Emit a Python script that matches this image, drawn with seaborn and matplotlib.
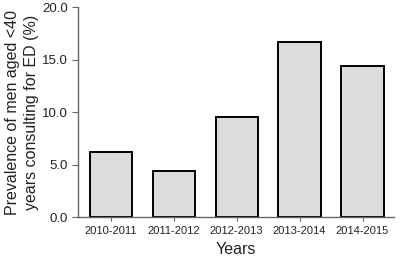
import matplotlib
matplotlib.use("Agg")
import matplotlib.pyplot as plt
import seaborn as sns
import pandas as pd

years = ["2010-2011", "2011-2012", "2012-2013", "2013-2014", "2014-2015"]
prevalence = [6.2, 4.4, 9.5, 16.7, 14.4]
yticks = [0, 5, 10, 15, 20]
ytick_labels = ["0.0", "5.0", "10.0", "15.0", "20.0"]

sns.set_style("ticks")
plt.rcParams['font.family'] = ['Liberation Sans', 'DejaVu Sans']
plt.rcParams['text.color'] = '#222222'
plt.rcParams['axes.labelcolor'] = '#222222'
plt.rcParams['xtick.labelcolor'] = '#222222'
plt.rcParams['ytick.labelcolor'] = '#222222'

df = pd.DataFrame({"Years": years, "Prevalence": prevalence})

fig = plt.figure(figsize=(4.0, 2.59), dpi=100)
ax = fig.add_axes([0.195, 0.162, 0.79, 0.81])
sns.barplot(data=df, x="Years", y="Prevalence", ax=ax, color="#dcdcdc",
            edgecolor="black", linewidth=1.4, width=0.67, saturation=1)
ax.set_ylim(0, 20)
ax.set_xlim(-0.52, 4.5)
ax.set_yticks(yticks)
ax.set_yticklabels(ytick_labels, fontsize=9.5)
ax.tick_params(axis="x", labelsize=8, length=3, color="#666666")
ax.tick_params(axis="y", length=4, color="#666666")
for s in ["top", "right"]:
    ax.spines[s].set_visible(False)
for s in ["left", "bottom"]:
    ax.spines[s].set_color("#666666")
    ax.spines[s].set_linewidth(1.0)
ax.set_xlabel("Years", fontsize=11.5, labelpad=4)
ax.set_ylabel("Prevalence of men aged <40\nyears consulting for ED (%)", fontsize=11.5,
              labelpad=2, linespacing=1.3)
fig.savefig("out.png", dpi=100)
